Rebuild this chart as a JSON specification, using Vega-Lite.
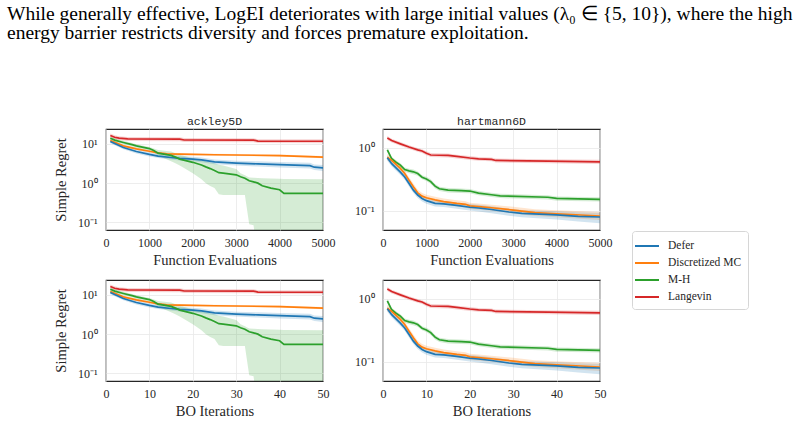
{
  "$schema": "https://vega.github.io/schema/vega-lite/v6.json",
  "padding": {"left": 7, "top": 4, "right": 0, "bottom": 0},
  "background": "white",
  "title": {
    "text": [
      "While generally effective, LogEI deteriorates with large initial values (λ₀ ∈ {5, 10}), where the high",
      "energy barrier restricts diversity and forces premature exploitation."
    ],
    "anchor": "start",
    "frame": "group",
    "dx": -99,
    "offset": 71,
    "font": "Liberation Serif",
    "fontSize": 19.5,
    "fontWeight": "normal",
    "color": "#000000",
    "lineHeight": 19.3
  },
  "datasets": {
    "runs": [
      {"f": "ackley5D", "m": "Langevin", "it": 1, "ev": 100, "y": 16.4, "lo": 14.6, "hi": 18.4},
      {"f": "ackley5D", "m": "Langevin", "it": 2, "ev": 200, "y": 14.8, "lo": 13.2, "hi": 16.6},
      {"f": "ackley5D", "m": "Langevin", "it": 3, "ev": 300, "y": 14.0, "lo": 12.5, "hi": 15.7},
      {"f": "ackley5D", "m": "Langevin", "it": 5, "ev": 500, "y": 13.4, "lo": 11.9, "hi": 15.0},
      {"f": "ackley5D", "m": "Langevin", "it": 17, "ev": 1700, "y": 13.2, "lo": 11.7, "hi": 14.8},
      {"f": "ackley5D", "m": "Langevin", "it": 18, "ev": 1800, "y": 12.6, "lo": 11.2, "hi": 14.1},
      {"f": "ackley5D", "m": "Langevin", "it": 34, "ev": 3400, "y": 12.5, "lo": 11.1, "hi": 14.0},
      {"f": "ackley5D", "m": "Langevin", "it": 35, "ev": 3500, "y": 11.8, "lo": 10.5, "hi": 13.2},
      {"f": "ackley5D", "m": "Langevin", "it": 50, "ev": 5000, "y": 11.7, "lo": 10.4, "hi": 13.1},

      {"f": "ackley5D", "m": "Discretized MC", "it": 1, "ev": 100, "y": 12.2, "lo": 11.5, "hi": 12.9},
      {"f": "ackley5D", "m": "Discretized MC", "it": 2, "ev": 200, "y": 11.0, "lo": 10.3, "hi": 11.7},
      {"f": "ackley5D", "m": "Discretized MC", "it": 4, "ev": 400, "y": 8.9, "lo": 8.4, "hi": 9.4},
      {"f": "ackley5D", "m": "Discretized MC", "it": 7, "ev": 700, "y": 7.5, "lo": 7.05, "hi": 7.95},
      {"f": "ackley5D", "m": "Discretized MC", "it": 10, "ev": 1000, "y": 6.5, "lo": 6.1, "hi": 6.9},
      {"f": "ackley5D", "m": "Discretized MC", "it": 12, "ev": 1200, "y": 5.9, "lo": 5.55, "hi": 6.25},
      {"f": "ackley5D", "m": "Discretized MC", "it": 14, "ev": 1400, "y": 5.6, "lo": 5.25, "hi": 5.95},
      {"f": "ackley5D", "m": "Discretized MC", "it": 17, "ev": 1700, "y": 5.5, "lo": 5.15, "hi": 5.85},
      {"f": "ackley5D", "m": "Discretized MC", "it": 25, "ev": 2500, "y": 5.3, "lo": 5.0, "hi": 5.6},
      {"f": "ackley5D", "m": "Discretized MC", "it": 40, "ev": 4000, "y": 5.05, "lo": 4.75, "hi": 5.35},
      {"f": "ackley5D", "m": "Discretized MC", "it": 50, "ev": 5000, "y": 4.6, "lo": 4.3, "hi": 4.9},

      {"f": "ackley5D", "m": "Defer", "it": 1, "ev": 100, "y": 11.5, "lo": 10.4, "hi": 12.7},
      {"f": "ackley5D", "m": "Defer", "it": 2, "ev": 200, "y": 10.3, "lo": 9.3, "hi": 11.4},
      {"f": "ackley5D", "m": "Defer", "it": 4, "ev": 400, "y": 8.1, "lo": 7.3, "hi": 9.0},
      {"f": "ackley5D", "m": "Defer", "it": 7, "ev": 700, "y": 6.4, "lo": 5.7, "hi": 7.2},
      {"f": "ackley5D", "m": "Defer", "it": 10, "ev": 1000, "y": 5.4, "lo": 4.8, "hi": 6.1},
      {"f": "ackley5D", "m": "Defer", "it": 12, "ev": 1200, "y": 4.9, "lo": 4.35, "hi": 5.5},
      {"f": "ackley5D", "m": "Defer", "it": 15, "ev": 1500, "y": 4.5, "lo": 4.0, "hi": 5.1},
      {"f": "ackley5D", "m": "Defer", "it": 17, "ev": 1700, "y": 4.3, "lo": 3.8, "hi": 4.9},
      {"f": "ackley5D", "m": "Defer", "it": 20, "ev": 2000, "y": 4.1, "lo": 3.6, "hi": 4.7},
      {"f": "ackley5D", "m": "Defer", "it": 22, "ev": 2200, "y": 3.9, "lo": 3.4, "hi": 4.5},
      {"f": "ackley5D", "m": "Defer", "it": 25, "ev": 2500, "y": 3.5, "lo": 3.05, "hi": 4.0},
      {"f": "ackley5D", "m": "Defer", "it": 30, "ev": 3000, "y": 3.25, "lo": 2.8, "hi": 3.75},
      {"f": "ackley5D", "m": "Defer", "it": 35, "ev": 3500, "y": 3.1, "lo": 2.65, "hi": 3.6},
      {"f": "ackley5D", "m": "Defer", "it": 40, "ev": 4000, "y": 2.95, "lo": 2.5, "hi": 3.45},
      {"f": "ackley5D", "m": "Defer", "it": 47, "ev": 4700, "y": 2.8, "lo": 2.35, "hi": 3.3},
      {"f": "ackley5D", "m": "Defer", "it": 48, "ev": 4800, "y": 2.55, "lo": 2.15, "hi": 3.0},
      {"f": "ackley5D", "m": "Defer", "it": 50, "ev": 5000, "y": 2.46, "lo": 2.05, "hi": 2.9},

      {"f": "ackley5D", "m": "M-H", "it": 1, "ev": 100, "y": 14.0, "lo": 12.6, "hi": 15.5},
      {"f": "ackley5D", "m": "M-H", "it": 2, "ev": 200, "y": 12.5, "lo": 11.2, "hi": 14.0},
      {"f": "ackley5D", "m": "M-H", "it": 4, "ev": 400, "y": 10.9, "lo": 9.8, "hi": 12.0},
      {"f": "ackley5D", "m": "M-H", "it": 6, "ev": 600, "y": 9.6, "lo": 8.6, "hi": 10.6},
      {"f": "ackley5D", "m": "M-H", "it": 7, "ev": 700, "y": 8.9, "lo": 8.0, "hi": 9.8},
      {"f": "ackley5D", "m": "M-H", "it": 10, "ev": 1000, "y": 7.6, "lo": 6.8, "hi": 8.3},
      {"f": "ackley5D", "m": "M-H", "it": 11, "ev": 1100, "y": 6.8, "lo": 6.0, "hi": 7.6},
      {"f": "ackley5D", "m": "M-H", "it": 12, "ev": 1200, "y": 5.8, "lo": 5.0, "hi": 7.0},
      {"f": "ackley5D", "m": "M-H", "it": 15, "ev": 1500, "y": 5.1, "lo": 3.6, "hi": 6.4},
      {"f": "ackley5D", "m": "M-H", "it": 16, "ev": 1600, "y": 4.6, "lo": 3.2, "hi": 5.8},
      {"f": "ackley5D", "m": "M-H", "it": 17, "ev": 1700, "y": 4.1, "lo": 2.8, "hi": 5.3},
      {"f": "ackley5D", "m": "M-H", "it": 20, "ev": 2000, "y": 3.4, "lo": 1.8, "hi": 4.3},
      {"f": "ackley5D", "m": "M-H", "it": 22, "ev": 2200, "y": 2.9, "lo": 1.25, "hi": 3.8},
      {"f": "ackley5D", "m": "M-H", "it": 23, "ev": 2300, "y": 2.6, "lo": 1.0, "hi": 3.6},
      {"f": "ackley5D", "m": "M-H", "it": 24, "ev": 2400, "y": 2.35, "lo": 0.85, "hi": 3.4},
      {"f": "ackley5D", "m": "M-H", "it": 25, "ev": 2500, "y": 2.1, "lo": 0.75, "hi": 3.2},
      {"f": "ackley5D", "m": "M-H", "it": 26, "ev": 2600, "y": 1.85, "lo": 0.52, "hi": 2.95},
      {"f": "ackley5D", "m": "M-H", "it": 27, "ev": 2700, "y": 1.8, "lo": 0.5, "hi": 2.8},
      {"f": "ackley5D", "m": "M-H", "it": 30, "ev": 3000, "y": 1.63, "lo": 0.5, "hi": 2.3},
      {"f": "ackley5D", "m": "M-H", "it": 31, "ev": 3100, "y": 1.45, "lo": 0.5, "hi": 1.8},
      {"f": "ackley5D", "m": "M-H", "it": 32, "ev": 3200, "y": 1.34, "lo": 0.5, "hi": 1.6},
      {"f": "ackley5D", "m": "M-H", "it": 33, "ev": 3300, "y": 1.15, "lo": 0.09, "hi": 1.4},
      {"f": "ackley5D", "m": "M-H", "it": 34, "ev": 3400, "y": 1.08, "lo": 0.085, "hi": 1.38},
      {"f": "ackley5D", "m": "M-H", "it": 35, "ev": 3500, "y": 1.0, "lo": 0.01, "hi": 1.36},
      {"f": "ackley5D", "m": "M-H", "it": 36, "ev": 3600, "y": 0.86, "lo": 0.01, "hi": 1.34},
      {"f": "ackley5D", "m": "M-H", "it": 38, "ev": 3800, "y": 0.75, "lo": 0.01, "hi": 1.32},
      {"f": "ackley5D", "m": "M-H", "it": 40, "ev": 4000, "y": 0.68, "lo": 0.01, "hi": 1.3},
      {"f": "ackley5D", "m": "M-H", "it": 41, "ev": 4100, "y": 0.55, "lo": 0.01, "hi": 1.28},
      {"f": "ackley5D", "m": "M-H", "it": 50, "ev": 5000, "y": 0.55, "lo": 0.01, "hi": 1.26},

      {"f": "hartmann6D", "m": "Langevin", "it": 1, "ev": 100, "y": 1.44, "lo": 1.34, "hi": 1.54},
      {"f": "hartmann6D", "m": "Langevin", "it": 2, "ev": 200, "y": 1.31, "lo": 1.22, "hi": 1.40},
      {"f": "hartmann6D", "m": "Langevin", "it": 4, "ev": 400, "y": 1.16, "lo": 1.08, "hi": 1.24},
      {"f": "hartmann6D", "m": "Langevin", "it": 6, "ev": 600, "y": 1.03, "lo": 0.96, "hi": 1.10},
      {"f": "hartmann6D", "m": "Langevin", "it": 8, "ev": 800, "y": 0.93, "lo": 0.865, "hi": 0.995},
      {"f": "hartmann6D", "m": "Langevin", "it": 9, "ev": 900, "y": 0.89, "lo": 0.83, "hi": 0.95},
      {"f": "hartmann6D", "m": "Langevin", "it": 10, "ev": 1000, "y": 0.82, "lo": 0.76, "hi": 0.88},
      {"f": "hartmann6D", "m": "Langevin", "it": 11, "ev": 1100, "y": 0.77, "lo": 0.715, "hi": 0.825},
      {"f": "hartmann6D", "m": "Langevin", "it": 15, "ev": 1500, "y": 0.76, "lo": 0.705, "hi": 0.815},
      {"f": "hartmann6D", "m": "Langevin", "it": 17, "ev": 1700, "y": 0.73, "lo": 0.68, "hi": 0.78},
      {"f": "hartmann6D", "m": "Langevin", "it": 20, "ev": 2000, "y": 0.69, "lo": 0.64, "hi": 0.74},
      {"f": "hartmann6D", "m": "Langevin", "it": 22, "ev": 2200, "y": 0.67, "lo": 0.625, "hi": 0.715},
      {"f": "hartmann6D", "m": "Langevin", "it": 25, "ev": 2500, "y": 0.655, "lo": 0.61, "hi": 0.70},
      {"f": "hartmann6D", "m": "Langevin", "it": 26, "ev": 2600, "y": 0.63, "lo": 0.585, "hi": 0.675},
      {"f": "hartmann6D", "m": "Langevin", "it": 38, "ev": 3800, "y": 0.615, "lo": 0.57, "hi": 0.66},
      {"f": "hartmann6D", "m": "Langevin", "it": 50, "ev": 5000, "y": 0.60, "lo": 0.555, "hi": 0.645},

      {"f": "hartmann6D", "m": "M-H", "it": 1, "ev": 100, "y": 0.93, "lo": 0.855, "hi": 1.0},
      {"f": "hartmann6D", "m": "M-H", "it": 2, "ev": 200, "y": 0.67, "lo": 0.615, "hi": 0.725},
      {"f": "hartmann6D", "m": "M-H", "it": 3, "ev": 300, "y": 0.59, "lo": 0.545, "hi": 0.635},
      {"f": "hartmann6D", "m": "M-H", "it": 4, "ev": 400, "y": 0.53, "lo": 0.49, "hi": 0.57},
      {"f": "hartmann6D", "m": "M-H", "it": 5, "ev": 500, "y": 0.45, "lo": 0.415, "hi": 0.485},
      {"f": "hartmann6D", "m": "M-H", "it": 6, "ev": 600, "y": 0.43, "lo": 0.395, "hi": 0.465},
      {"f": "hartmann6D", "m": "M-H", "it": 7, "ev": 700, "y": 0.415, "lo": 0.38, "hi": 0.45},
      {"f": "hartmann6D", "m": "M-H", "it": 8, "ev": 800, "y": 0.39, "lo": 0.36, "hi": 0.42},
      {"f": "hartmann6D", "m": "M-H", "it": 9, "ev": 900, "y": 0.34, "lo": 0.315, "hi": 0.365},
      {"f": "hartmann6D", "m": "M-H", "it": 10, "ev": 1000, "y": 0.32, "lo": 0.295, "hi": 0.345},
      {"f": "hartmann6D", "m": "M-H", "it": 11, "ev": 1100, "y": 0.29, "lo": 0.265, "hi": 0.315},
      {"f": "hartmann6D", "m": "M-H", "it": 12, "ev": 1200, "y": 0.245, "lo": 0.225, "hi": 0.265},
      {"f": "hartmann6D", "m": "M-H", "it": 13, "ev": 1300, "y": 0.223, "lo": 0.205, "hi": 0.24},
      {"f": "hartmann6D", "m": "M-H", "it": 15, "ev": 1500, "y": 0.212, "lo": 0.195, "hi": 0.229},
      {"f": "hartmann6D", "m": "M-H", "it": 18, "ev": 1800, "y": 0.208, "lo": 0.191, "hi": 0.225},
      {"f": "hartmann6D", "m": "M-H", "it": 20, "ev": 2000, "y": 0.205, "lo": 0.189, "hi": 0.221},
      {"f": "hartmann6D", "m": "M-H", "it": 22, "ev": 2200, "y": 0.19, "lo": 0.175, "hi": 0.205},
      {"f": "hartmann6D", "m": "M-H", "it": 25, "ev": 2500, "y": 0.179, "lo": 0.165, "hi": 0.193},
      {"f": "hartmann6D", "m": "M-H", "it": 27, "ev": 2700, "y": 0.172, "lo": 0.158, "hi": 0.186},
      {"f": "hartmann6D", "m": "M-H", "it": 38, "ev": 3800, "y": 0.163, "lo": 0.15, "hi": 0.176},
      {"f": "hartmann6D", "m": "M-H", "it": 40, "ev": 4000, "y": 0.156, "lo": 0.144, "hi": 0.168},
      {"f": "hartmann6D", "m": "M-H", "it": 50, "ev": 5000, "y": 0.151, "lo": 0.139, "hi": 0.163},

      {"f": "hartmann6D", "m": "Discretized MC", "it": 1, "ev": 100, "y": 0.71, "lo": 0.63, "hi": 0.795},
      {"f": "hartmann6D", "m": "Discretized MC", "it": 2, "ev": 200, "y": 0.63, "lo": 0.56, "hi": 0.705},
      {"f": "hartmann6D", "m": "Discretized MC", "it": 3, "ev": 300, "y": 0.545, "lo": 0.485, "hi": 0.61},
      {"f": "hartmann6D", "m": "Discretized MC", "it": 4, "ev": 400, "y": 0.47, "lo": 0.42, "hi": 0.525},
      {"f": "hartmann6D", "m": "Discretized MC", "it": 5, "ev": 500, "y": 0.39, "lo": 0.345, "hi": 0.435},
      {"f": "hartmann6D", "m": "Discretized MC", "it": 6, "ev": 600, "y": 0.305, "lo": 0.27, "hi": 0.34},
      {"f": "hartmann6D", "m": "Discretized MC", "it": 7, "ev": 700, "y": 0.24, "lo": 0.215, "hi": 0.27},
      {"f": "hartmann6D", "m": "Discretized MC", "it": 8, "ev": 800, "y": 0.192, "lo": 0.171, "hi": 0.215},
      {"f": "hartmann6D", "m": "Discretized MC", "it": 9, "ev": 900, "y": 0.17, "lo": 0.151, "hi": 0.19},
      {"f": "hartmann6D", "m": "Discretized MC", "it": 10, "ev": 1000, "y": 0.16, "lo": 0.142, "hi": 0.179},
      {"f": "hartmann6D", "m": "Discretized MC", "it": 12, "ev": 1200, "y": 0.148, "lo": 0.132, "hi": 0.166},
      {"f": "hartmann6D", "m": "Discretized MC", "it": 14, "ev": 1400, "y": 0.139, "lo": 0.124, "hi": 0.156},
      {"f": "hartmann6D", "m": "Discretized MC", "it": 17, "ev": 1700, "y": 0.13, "lo": 0.116, "hi": 0.146},
      {"f": "hartmann6D", "m": "Discretized MC", "it": 19, "ev": 1900, "y": 0.126, "lo": 0.112, "hi": 0.141},
      {"f": "hartmann6D", "m": "Discretized MC", "it": 20, "ev": 2000, "y": 0.119, "lo": 0.106, "hi": 0.133},
      {"f": "hartmann6D", "m": "Discretized MC", "it": 22, "ev": 2200, "y": 0.116, "lo": 0.103, "hi": 0.13},
      {"f": "hartmann6D", "m": "Discretized MC", "it": 25, "ev": 2500, "y": 0.111, "lo": 0.099, "hi": 0.124},
      {"f": "hartmann6D", "m": "Discretized MC", "it": 30, "ev": 3000, "y": 0.102, "lo": 0.09, "hi": 0.115},
      {"f": "hartmann6D", "m": "Discretized MC", "it": 35, "ev": 3500, "y": 0.093, "lo": 0.082, "hi": 0.105},
      {"f": "hartmann6D", "m": "Discretized MC", "it": 40, "ev": 4000, "y": 0.089, "lo": 0.078, "hi": 0.101},
      {"f": "hartmann6D", "m": "Discretized MC", "it": 50, "ev": 5000, "y": 0.082, "lo": 0.071, "hi": 0.095},

      {"f": "hartmann6D", "m": "Defer", "it": 1, "ev": 100, "y": 0.695, "lo": 0.625, "hi": 0.765},
      {"f": "hartmann6D", "m": "Defer", "it": 2, "ev": 200, "y": 0.56, "lo": 0.505, "hi": 0.615},
      {"f": "hartmann6D", "m": "Defer", "it": 3, "ev": 300, "y": 0.48, "lo": 0.43, "hi": 0.53},
      {"f": "hartmann6D", "m": "Defer", "it": 4, "ev": 400, "y": 0.41, "lo": 0.37, "hi": 0.45},
      {"f": "hartmann6D", "m": "Defer", "it": 5, "ev": 500, "y": 0.344, "lo": 0.31, "hi": 0.38},
      {"f": "hartmann6D", "m": "Defer", "it": 6, "ev": 600, "y": 0.27, "lo": 0.243, "hi": 0.297},
      {"f": "hartmann6D", "m": "Defer", "it": 7, "ev": 700, "y": 0.212, "lo": 0.19, "hi": 0.233},
      {"f": "hartmann6D", "m": "Defer", "it": 8, "ev": 800, "y": 0.177, "lo": 0.159, "hi": 0.195},
      {"f": "hartmann6D", "m": "Defer", "it": 9, "ev": 900, "y": 0.156, "lo": 0.14, "hi": 0.172},
      {"f": "hartmann6D", "m": "Defer", "it": 10, "ev": 1000, "y": 0.144, "lo": 0.129, "hi": 0.159},
      {"f": "hartmann6D", "m": "Defer", "it": 12, "ev": 1200, "y": 0.13, "lo": 0.116, "hi": 0.144},
      {"f": "hartmann6D", "m": "Defer", "it": 14, "ev": 1400, "y": 0.128, "lo": 0.114, "hi": 0.142},
      {"f": "hartmann6D", "m": "Defer", "it": 17, "ev": 1700, "y": 0.121, "lo": 0.107, "hi": 0.135},
      {"f": "hartmann6D", "m": "Defer", "it": 20, "ev": 2000, "y": 0.113, "lo": 0.1, "hi": 0.127},
      {"f": "hartmann6D", "m": "Defer", "it": 22, "ev": 2200, "y": 0.11, "lo": 0.097, "hi": 0.124},
      {"f": "hartmann6D", "m": "Defer", "it": 25, "ev": 2500, "y": 0.104, "lo": 0.091, "hi": 0.117},
      {"f": "hartmann6D", "m": "Defer", "it": 29, "ev": 2900, "y": 0.095, "lo": 0.083, "hi": 0.107},
      {"f": "hartmann6D", "m": "Defer", "it": 32, "ev": 3200, "y": 0.09, "lo": 0.078, "hi": 0.102},
      {"f": "hartmann6D", "m": "Defer", "it": 40, "ev": 4000, "y": 0.0855, "lo": 0.072, "hi": 0.098},
      {"f": "hartmann6D", "m": "Defer", "it": 45, "ev": 4500, "y": 0.081, "lo": 0.067, "hi": 0.094},
      {"f": "hartmann6D", "m": "Defer", "it": 50, "ev": 5000, "y": 0.079, "lo": 0.063, "hi": 0.092}
    ]
  },
  "data": {"name": "runs"},
  "columns": 2,
  "bounds": "flush",
  "spacing": {"row": 50, "column": 60},
  "resolve": {"scale": {"x": "independent", "y": "independent", "stroke": "shared", "fill": "shared"}},
  "concat": [
    {
      "width": 217,
      "height": 101,
      "title": "ackley5D",
      "transform": [{"filter": "datum.f === 'ackley5D'"}],
      "encoding": {
        "x": {"field": "ev", "type": "quantitative", "scale": {"domain": [0, 5000], "nice": false},
              "axis": {"values": [0, 1000, 2000, 3000, 4000, 5000], "format": "d", "title": "Function Evaluations"}}
      },
      "layer": [
        {
          "mark": {"type": "area", "fillOpacity": 0.2, "clip": true},
          "encoding": {
            "y": {"field": "lo", "type": "quantitative",
                  "scale": {"type": "log", "domain": [0.064, 24], "nice": false},
                  "axis": {"values": [0.1, 1, 10], "title": "Simple Regret",
                           "labelExpr": "datum.value > 5 ? '10¹' : (datum.value > 0.5 ? '10⁰' : '10⁻¹')"}},
            "y2": {"field": "hi"},
            "fill": {"field": "m", "type": "nominal",
                     "scale": {"domain": ["Defer", "Discretized MC", "M-H", "Langevin"],
                               "range": ["#1f77b4", "#ff7f0e", "#2ca02c", "#d62728"]}}
          }
        },
        {
          "mark": {"type": "line", "strokeWidth": 1.7, "clip": true},
          "encoding": {
            "y": {"field": "y", "type": "quantitative",
                  "axis": {"values": [0.1, 1, 10], "title": "Simple Regret",
                           "labelExpr": "datum.value > 5 ? '10¹' : (datum.value > 0.5 ? '10⁰' : '10⁻¹')"}},
            "stroke": {"field": "m", "type": "nominal",
                       "scale": {"domain": ["Defer", "Discretized MC", "M-H", "Langevin"],
                                 "range": ["#1f77b4", "#ff7f0e", "#2ca02c", "#d62728"]}}
          }
        }
      ]
    },
    {
      "width": 217,
      "height": 101,
      "title": "hartmann6D",
      "transform": [{"filter": "datum.f === 'hartmann6D'"}],
      "encoding": {
        "x": {"field": "ev", "type": "quantitative", "scale": {"domain": [0, 5000], "nice": false},
              "axis": {"values": [0, 1000, 2000, 3000, 4000, 5000], "format": "d", "title": "Function Evaluations"}}
      },
      "layer": [
        {
          "mark": {"type": "area", "fillOpacity": 0.2, "clip": true},
          "encoding": {
            "y": {"field": "lo", "type": "quantitative",
                  "scale": {"type": "log", "domain": [0.049, 2.0], "nice": false},
                  "axis": {"values": [0.1, 1], "title": null,
                           "labelExpr": "datum.value > 0.5 ? '10⁰' : '10⁻¹'"}},
            "y2": {"field": "hi"},
            "fill": {"field": "m", "type": "nominal",
                     "scale": {"domain": ["Defer", "Discretized MC", "M-H", "Langevin"],
                               "range": ["#1f77b4", "#ff7f0e", "#2ca02c", "#d62728"]}}
          }
        },
        {
          "mark": {"type": "line", "strokeWidth": 1.7, "clip": true},
          "encoding": {
            "y": {"field": "y", "type": "quantitative",
                  "axis": {"values": [0.1, 1], "title": null,
                           "labelExpr": "datum.value > 0.5 ? '10⁰' : '10⁻¹'"}},
            "stroke": {"field": "m", "type": "nominal",
                       "scale": {"domain": ["Defer", "Discretized MC", "M-H", "Langevin"],
                                 "range": ["#1f77b4", "#ff7f0e", "#2ca02c", "#d62728"]}}
          }
        }
      ]
    },
    {
      "width": 217,
      "height": 101,
      "transform": [{"filter": "datum.f === 'ackley5D'"}],
      "encoding": {
        "x": {"field": "it", "type": "quantitative", "scale": {"domain": [0, 50], "nice": false},
              "axis": {"values": [0, 10, 20, 30, 40, 50], "title": "BO Iterations"}}
      },
      "layer": [
        {
          "mark": {"type": "area", "fillOpacity": 0.2, "clip": true},
          "encoding": {
            "y": {"field": "lo", "type": "quantitative",
                  "scale": {"type": "log", "domain": [0.064, 24], "nice": false},
                  "axis": {"values": [0.1, 1, 10], "title": "Simple Regret",
                           "labelExpr": "datum.value > 5 ? '10¹' : (datum.value > 0.5 ? '10⁰' : '10⁻¹')"}},
            "y2": {"field": "hi"},
            "fill": {"field": "m", "type": "nominal",
                     "scale": {"domain": ["Defer", "Discretized MC", "M-H", "Langevin"],
                               "range": ["#1f77b4", "#ff7f0e", "#2ca02c", "#d62728"]}}
          }
        },
        {
          "mark": {"type": "line", "strokeWidth": 1.7, "clip": true},
          "encoding": {
            "y": {"field": "y", "type": "quantitative",
                  "axis": {"values": [0.1, 1, 10], "title": "Simple Regret",
                           "labelExpr": "datum.value > 5 ? '10¹' : (datum.value > 0.5 ? '10⁰' : '10⁻¹')"}},
            "stroke": {"field": "m", "type": "nominal",
                       "scale": {"domain": ["Defer", "Discretized MC", "M-H", "Langevin"],
                                 "range": ["#1f77b4", "#ff7f0e", "#2ca02c", "#d62728"]}}
          }
        }
      ]
    },
    {
      "width": 217,
      "height": 101,
      "transform": [{"filter": "datum.f === 'hartmann6D'"}],
      "encoding": {
        "x": {"field": "it", "type": "quantitative", "scale": {"domain": [0, 50], "nice": false},
              "axis": {"values": [0, 10, 20, 30, 40, 50], "title": "BO Iterations"}}
      },
      "layer": [
        {
          "mark": {"type": "area", "fillOpacity": 0.2, "clip": true},
          "encoding": {
            "y": {"field": "lo", "type": "quantitative",
                  "scale": {"type": "log", "domain": [0.049, 2.0], "nice": false},
                  "axis": {"values": [0.1, 1], "title": null,
                           "labelExpr": "datum.value > 0.5 ? '10⁰' : '10⁻¹'"}},
            "y2": {"field": "hi"},
            "fill": {"field": "m", "type": "nominal",
                     "scale": {"domain": ["Defer", "Discretized MC", "M-H", "Langevin"],
                               "range": ["#1f77b4", "#ff7f0e", "#2ca02c", "#d62728"]}}
          }
        },
        {
          "mark": {"type": "line", "strokeWidth": 1.7, "clip": true},
          "encoding": {
            "y": {"field": "y", "type": "quantitative",
                  "axis": {"values": [0.1, 1], "title": null,
                           "labelExpr": "datum.value > 0.5 ? '10⁰' : '10⁻¹'"}},
            "stroke": {"field": "m", "type": "nominal",
                       "scale": {"domain": ["Defer", "Discretized MC", "M-H", "Langevin"],
                                 "range": ["#1f77b4", "#ff7f0e", "#2ca02c", "#d62728"]}}
          }
        }
      ]
    }
  ],
  "config": {
    "font": "Liberation Serif",
    "view": {"stroke": "#262626", "strokeWidth": 1.2},
    "title": {"font": "Liberation Mono", "fontSize": 11.5, "fontWeight": "normal", "color": "#262626", "offset": 2},
    "axis": {
      "labelFont": "Liberation Serif", "labelFontSize": 12, "labelColor": "#262626",
      "titleFont": "Liberation Serif", "titleFontSize": 14.5, "titleFontWeight": "normal", "titleColor": "#262626",
      "ticks": false, "domain": false, "grid": true, "gridColor": "#e8e8e8", "gridWidth": 0.8,
      "labelFlush": false, "labelOverlap": false
    },
    "axisX": {"labelPadding": 7, "titlePadding": 5},
    "axisY": {"labelPadding": 9, "titlePadding": 9},
    "legend": {
      "orient": "none", "legendX": 526, "legendY": 102,
      "title": null, "symbolType": "M-1.5,0H1.5", "symbolSize": 256, "symbolStrokeWidth": 2,
      "labelFont": "Liberation Serif", "labelFontSize": 11.5, "labelColor": "#262626", "labelOffset": 12,
      "strokeColor": "#d6d6d6", "cornerRadius": 3, "padding": 6, "rowPadding": 2, "fillColor": "white"
    }
  }
}
